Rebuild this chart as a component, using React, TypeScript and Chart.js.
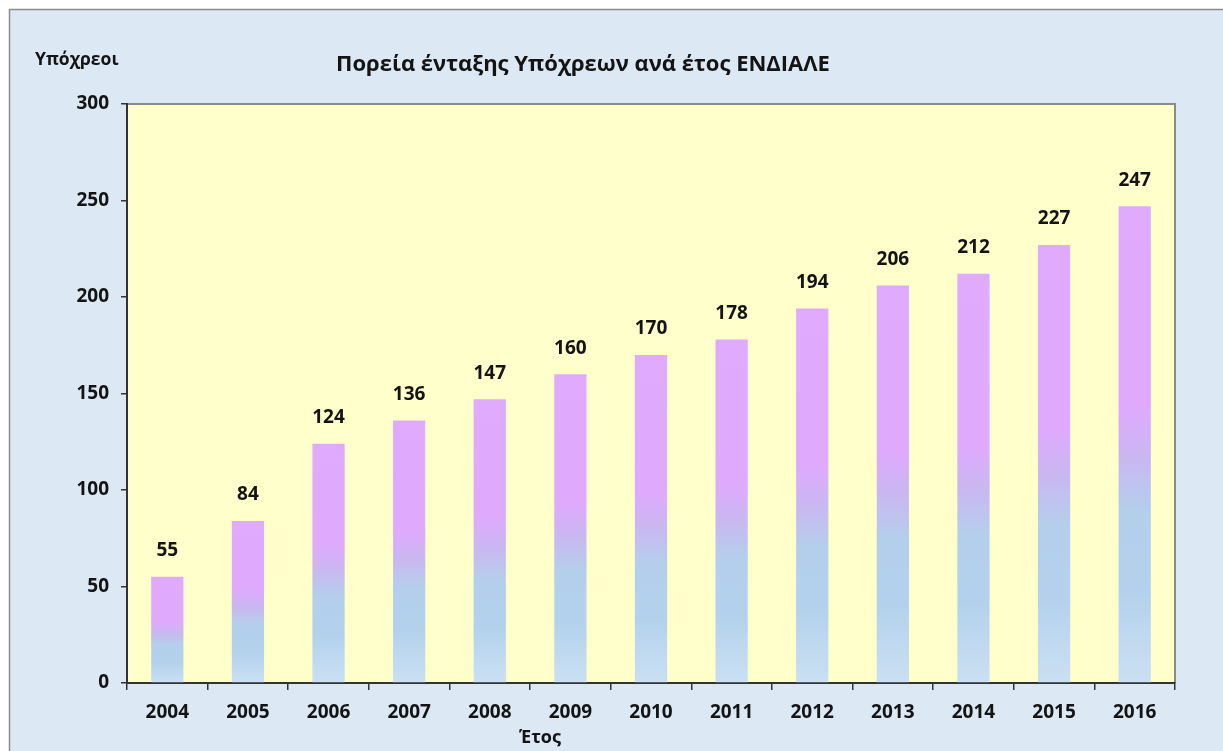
import React, { useEffect, useRef } from "react";
import { Chart, registerables } from "chart.js";

Chart.register(...registerables);

const years = ["2004", "2005", "2006", "2007", "2008", "2009", "2010", "2011", "2012", "2013", "2014", "2015", "2016"];
const obligors = [55, 84, 124, 136, 147, 160, 170, 178, 194, 206, 212, 227, 247];
const yMin = 0;
const yMax = 300;
const yStep = 50;
const chartTitle = "Πορεία ένταξης Υπόχρεων ανά έτος ΕΝΔΙΑΛΕ";
const yTitle = "Υπόχρεοι";
const xTitle = "Έτος";

const FONT = "'Open Sans', 'DejaVu Sans', sans-serif";
const TEXT = "#141414";

const framePlugin = {
  id: "frame",
  beforeDraw(chart: any) {
    const { ctx, width, height } = chart;
    ctx.save();
    ctx.fillStyle = "#ffffff";
    ctx.fillRect(0, 0, width, height);
    ctx.fillStyle = "#dde8f5";
    ctx.fillRect(9, 9, width - 9, height - 9);
    ctx.strokeStyle = "#8c8c8c";
    ctx.lineWidth = 1.5;
    ctx.beginPath();
    ctx.moveTo(9.5, height);
    ctx.lineTo(9.5, 9.5);
    ctx.lineTo(width, 9.5);
    ctx.stroke();
    const a = chart.chartArea;
    ctx.fillStyle = "#ffffcc";
    ctx.fillRect(a.left, a.top, a.right - a.left, a.bottom - a.top);
    ctx.strokeStyle = "#8a8a8a";
    ctx.lineWidth = 2;
    ctx.beginPath();
    ctx.moveTo(a.left, a.top);
    ctx.lineTo(a.right, a.top);
    ctx.lineTo(a.right, a.bottom);
    ctx.stroke();
    ctx.restore();
  },
  afterDraw(chart: any) {
    const { ctx } = chart;
    ctx.save();
    ctx.fillStyle = TEXT;
    ctx.textBaseline = "middle";
    ctx.textAlign = "center";
    ctx.font = `bold 22px ${FONT}`;
    ctx.fillText(chartTitle, 583, 65);
    ctx.textAlign = "left";
    ctx.font = `bold 17.5px ${FONT}`;
    ctx.fillText(yTitle, 35, 60);
    ctx.textAlign = "center";
    ctx.font = `bold 18px ${FONT}`;
    ctx.fillText(xTitle, 540, 738);
    ctx.restore();
  },
};

const labelPlugin = {
  id: "valueLabels",
  afterDatasetsDraw(chart: any) {
    const { ctx } = chart;
    const meta = chart.getDatasetMeta(0);
    ctx.save();
    ctx.fillStyle = TEXT;
    ctx.textAlign = "center";
    ctx.textBaseline = "middle";
    ctx.font = `bold 19px ${FONT}`;
    meta.data.forEach((bar: any, i: number) => {
      ctx.fillText(String(obligors[i]), bar.x, bar.y - 26);
    });
    ctx.restore();
  },
};

function barGradient(c: any) {
  const chart = c.chart;
  const area = chart.chartArea;
  if (!area || c.type !== "data") return "#e0aaff";
  const y = chart.scales.y;
  const v = c.raw as number;
  const top = y.getPixelForValue(v);
  const base = y.getPixelForValue(0);
  const g = chart.ctx.createLinearGradient(0, base, 0, top);
  g.addColorStop(0, "#cae0f3");
  g.addColorStop(0.2, "#b3d1ec");
  g.addColorStop(0.36, "#b4cfec");
  g.addColorStop(0.47, "#c9b8f1");
  g.addColorStop(0.58, "#dfaafe");
  g.addColorStop(1, "#e0aaff");
  return g;
}

export default function App() {
  const ref = useRef<HTMLCanvasElement | null>(null);
  useEffect(() => {
    if (!ref.current) return;
    const yAxisWidth = 60;
    const xAxisHeight = 45;
    const chart = new Chart(ref.current, {
      type: "bar",
      data: {
        labels: years,
        datasets: [
          {
            data: obligors,
            backgroundColor: barGradient as any,
            borderWidth: 0,
            barPercentage: 0.4,
            categoryPercentage: 1,
          },
        ],
      },
      plugins: [framePlugin, labelPlugin],
      options: {
        animation: false,
        responsive: true,
        maintainAspectRatio: false,
        layout: {
          padding: { left: 127 - yAxisWidth, top: 104, right: 48, bottom: 751 - 683 - xAxisHeight },
        },
        plugins: {
          legend: { display: false },
          title: { display: false },
          tooltip: { enabled: false },
        },
        scales: {
          x: {
            afterFit: (s: any) => {
              s.height = xAxisHeight;
            },
            grid: {
              offset: true,
              drawOnChartArea: false,
              drawTicks: true,
              tickLength: 7,
              color: "#333333",
              lineWidth: 1.5,
            },
            border: { display: true, color: "#333333", width: 2 },
            ticks: {
              color: TEXT,
              font: { family: FONT, size: 19, weight: "bold" },
              padding: 11,
              maxRotation: 0,
            },
          },
          y: {
            min: yMin,
            max: yMax,
            afterFit: (s: any) => {
              s.width = yAxisWidth;
            },
            grid: {
              drawOnChartArea: false,
              drawTicks: true,
              tickLength: 6,
              color: "#333333",
              lineWidth: 1.5,
            },
            border: { display: true, color: "#333333", width: 2 },
            ticks: {
              stepSize: yStep,
              color: TEXT,
              font: { family: FONT, size: 19, weight: "bold" },
              padding: 12,
            },
          },
        },
      },
    });
    return () => chart.destroy();
  }, []);
  return (
    <div style={{ position: "fixed", left: 0, top: 0, width: 1223, height: 751 }}>
      <canvas ref={ref} />
    </div>
  );
}
